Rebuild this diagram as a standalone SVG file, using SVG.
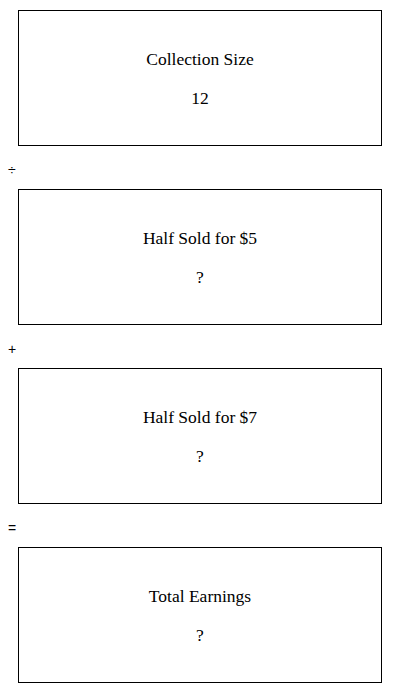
<svg xmlns="http://www.w3.org/2000/svg" width="400" height="693" viewBox="0 0 400 693">
<style>
.box{fill:#fff;stroke:#000;stroke-width:1}
.t{font-family:"Liberation Serif",serif;font-size:17.5px;text-anchor:middle;fill:#000}
.op{font-family:"Liberation Sans",sans-serif;font-size:14px;fill:#000}
</style>
<rect width="400" height="693" fill="#fff"/>
<g id="n1"><rect class="box" x="18.5" y="10.5" width="363" height="135"/><text class="t" x="200" y="65">Collection Size</text><text class="t" x="200" y="104">12</text></g>
<g id="n2"><rect class="box" x="18.5" y="189.5" width="363" height="135"/><text class="t" x="200" y="244">Half Sold for $5</text><text class="t" x="200" y="283">?</text></g>
<g id="n3"><rect class="box" x="18.5" y="368.5" width="363" height="135"/><text class="t" x="200" y="423">Half Sold for $7</text><text class="t" x="200" y="462">?</text></g>
<g id="n4"><rect class="box" x="18.5" y="547.5" width="363" height="135"/><text class="t" x="200" y="602">Total Earnings</text><text class="t" x="200" y="641">?</text></g>
<g id="connectors"><text class="op" x="8" y="175">÷</text><text class="op" x="8" y="354">+</text><text class="op" x="8" y="533">=</text></g>
</svg>
